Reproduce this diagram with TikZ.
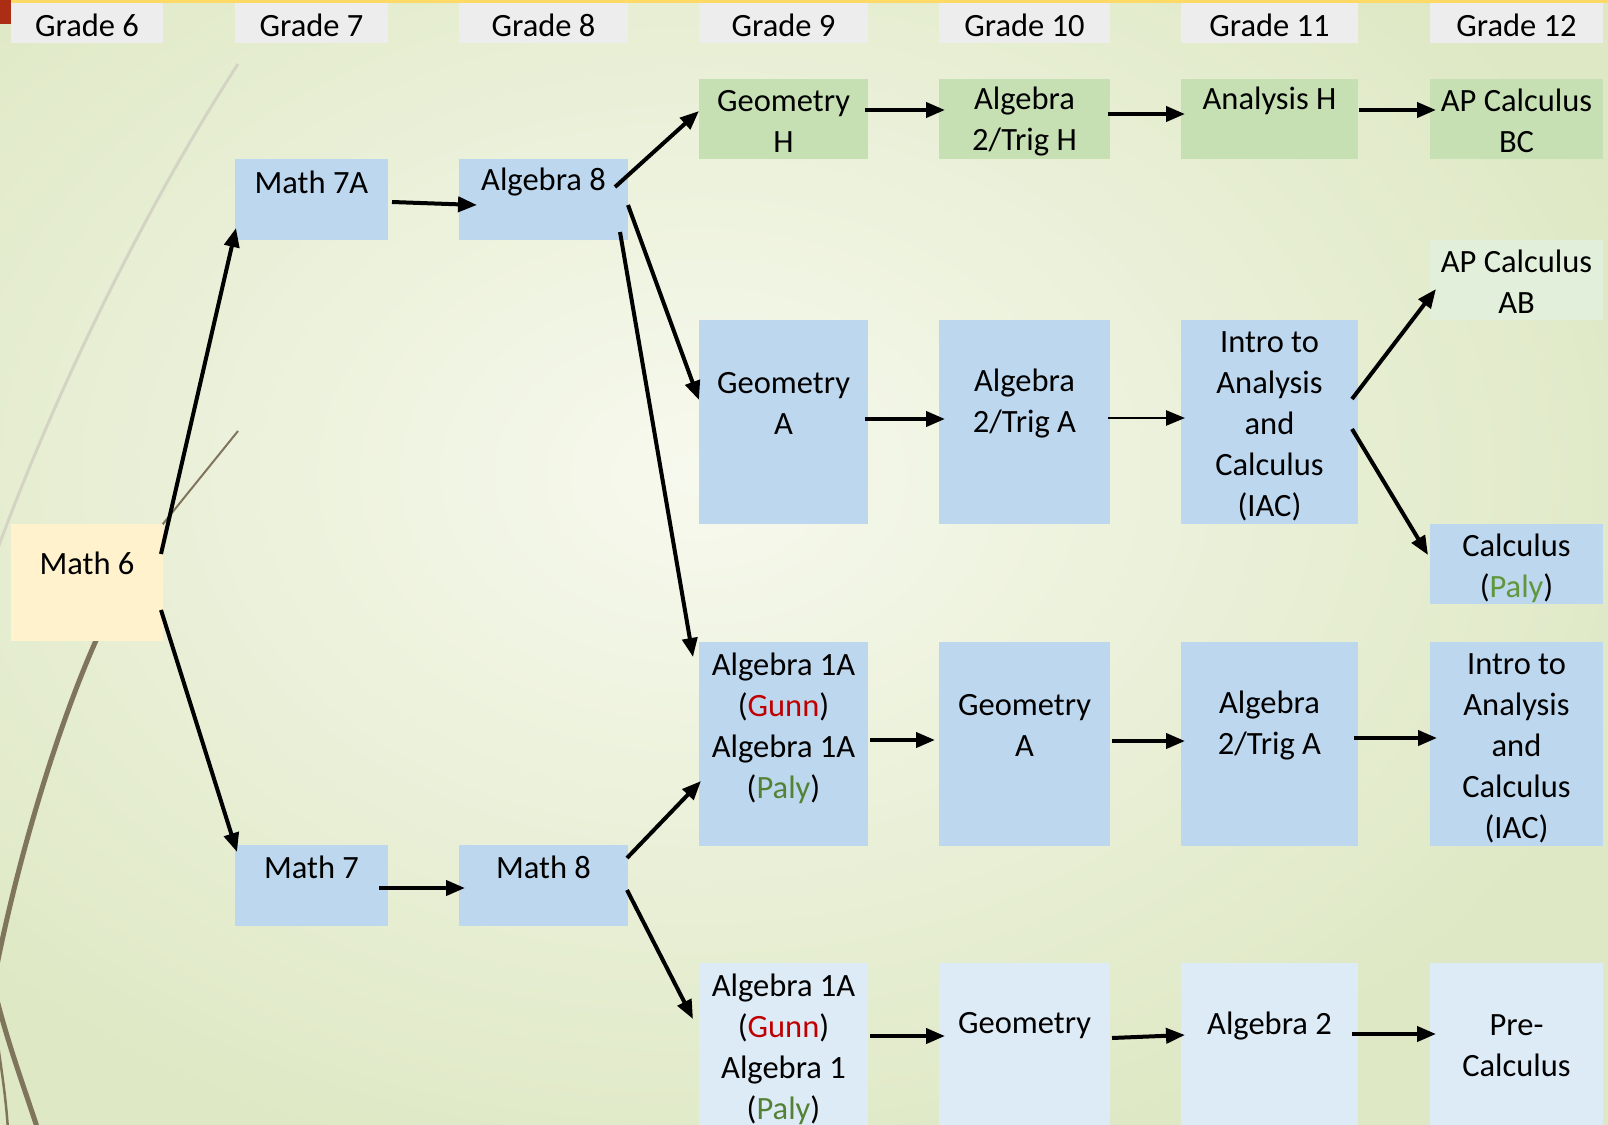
\documentclass[tikz,border=0pt]{standalone}
\usepackage{fontspec}
\setmainfont{Carlito}
\usetikzlibrary{arrows.meta,calc}
\definecolor{hdr}{RGB}{237,237,237}
\definecolor{grn}{RGB}{198,224,180}
\definecolor{lgrn}{RGB}{226,239,218}
\definecolor{blu}{RGB}{189,215,238}
\definecolor{lblu}{RGB}{221,235,247}
\definecolor{ylw}{RGB}{255,242,204}
\definecolor{gunn}{RGB}{192,0,0}
\definecolor{paly}{RGB}{84,130,53}
\definecolor{paly2}{RGB}{96,150,60}
\definecolor{bgin}{RGB}{247,249,238}
\definecolor{bgout}{RGB}{222,232,196}
\definecolor{wisp}{RGB}{127,117,92}
\definecolor{wispl}{RGB}{212,212,196}
\definecolor{topy}{RGB}{255,217,102}
\definecolor{topr}{RGB}{170,45,20}
\tikzset{
  box/.style={inner sep=0pt, outer sep=0pt, anchor=north west, draw=none},
  txt/.style={align=center, inner sep=0pt, font=\fontsize{32.5}{41}\selectfont},
  arr/.style={line width=4pt, -{Triangle[length=19pt,width=15pt]}},
  arrthin/.style={line width=2.5pt, -{Triangle[length=19pt,width=15pt]}},
}
\begin{document}
\begin{tikzpicture}[x=1pt,y=-1pt]
\clip (0,0) rectangle (1608,1124);
\shade[inner color=bgin, outer color=bgout] (-300,-250) rectangle (1700,1200);
% decorative wisps
\draw[wispl, line width=3pt] (238,64) .. controls (150,200) and (60,380) .. (-2,548);
\draw[wisp, line width=2pt] (238,431) -- (150,540);
\draw[wisp, line width=5pt] (98,636) .. controls (60,720) and (20,850) .. (-3,965);
\draw[wisp, line width=5pt] (-3,1000) .. controls (10,1050) and (25,1090) .. (38,1130);
\draw[wisp, line width=2.5pt] (-2,1045) .. controls (3,1080) and (6,1100) .. (8,1130);
% top bar
\fill[topy] (11,0) rectangle (1608,3);
\fill[topr] (0,0) rectangle (11,24);
% headers
\node[box, fill=hdr, minimum width=152pt, minimum height=40pt] (g6) at (11,3) {};
\node[box, fill=hdr, minimum width=153pt, minimum height=40pt] (g7) at (235,3) {};
\node[box, fill=hdr, minimum width=169pt, minimum height=40pt] (g8) at (459,3) {};
\node[box, fill=hdr, minimum width=169pt, minimum height=40pt] (g9) at (699,3) {};
\node[box, fill=hdr, minimum width=171pt, minimum height=40pt] (g10) at (939,3) {};
\node[box, fill=hdr, minimum width=177pt, minimum height=40pt] (g11) at (1181,3) {};
\node[box, fill=hdr, minimum width=173pt, minimum height=40pt] (g12) at (1430,3) {};
\node[txt] (g6t) at (87,25) {Grade 6};
\node[txt] (g7t) at (311.5,25) {Grade 7};
\node[txt] (g8t) at (543.5,25) {Grade 8};
\node[txt] (g9t) at (783.5,25) {Grade 9};
\node[txt] (g10t) at (1024.5,25) {Grade 10};
\node[txt] (g11t) at (1269.5,25) {Grade 11};
\node[txt] (g12t) at (1516.5,25) {Grade 12};
% boxes
\node[box, fill=grn, minimum width=169pt, minimum height=80pt] (geoH) at (699,79) {};
\node[box, fill=grn, minimum width=171pt, minimum height=80pt] (a2h) at (939,79) {};
\node[box, fill=grn, minimum width=177pt, minimum height=80pt] (anh) at (1181,79) {};
\node[box, fill=grn, minimum width=173pt, minimum height=80pt] (bc) at (1430,79) {};
\node[box, fill=blu, minimum width=153pt, minimum height=81pt] (m7a) at (235,159) {};
\node[box, fill=blu, minimum width=169pt, minimum height=81pt] (alg8) at (459,159) {};
\node[box, fill=lgrn, minimum width=173pt, minimum height=80pt] (ab) at (1430,240) {};
\node[box, fill=blu, minimum width=169pt, minimum height=204pt] (geoA) at (699,320) {};
\node[box, fill=blu, minimum width=171pt, minimum height=204pt] (a2a) at (939,320) {};
\node[box, fill=blu, minimum width=177pt, minimum height=204pt] (iac) at (1181,320) {};
\node[box, fill=blu, minimum width=173pt, minimum height=80pt] (calc) at (1430,524) {};
\node[box, fill=ylw, minimum width=152pt, minimum height=117pt] (m6) at (11,524) {};
\node[box, fill=blu, minimum width=169pt, minimum height=204pt] (alga) at (699,642) {};
\node[box, fill=blu, minimum width=171pt, minimum height=204pt] (geoA2) at (939,642) {};
\node[box, fill=blu, minimum width=177pt, minimum height=204pt] (a2a2) at (1181,642) {};
\node[box, fill=blu, minimum width=173pt, minimum height=204pt] (iac2) at (1430,642) {};
\node[box, fill=blu, minimum width=153pt, minimum height=81pt] (m7) at (235,845) {};
\node[box, fill=blu, minimum width=169pt, minimum height=81pt] (m8) at (459,845) {};
\node[box, fill=lblu, minimum width=169pt, minimum height=200pt] (algb) at (699,963) {};
\node[box, fill=lblu, minimum width=171pt, minimum height=200pt] (geo) at (939,963) {};
\node[box, fill=lblu, minimum width=177pt, minimum height=200pt] (alg2) at (1181,963) {};
\node[box, fill=lblu, minimum width=173pt, minimum height=200pt] (pre) at (1430,963) {};
% texts
\node[txt] (geoHt) at (783.5,121) {Geometry\\H};
\node[txt] (a2ht) at (1024.5,122) {Algebra\\2/Trig H};
\node[txt] (anht) at (1269.5,101) {Analysis H};
\node[txt] (bct) at (1516.5,121) {AP Calculus\\BC};
\node[txt] (m7at) at (311.5,182) {Math 7A};
\node[txt] (alg8t) at (543.5,182) {Algebra 8};
\node[txt] (abt) at (1516.5,282) {AP Calculus\\AB};
\node[txt] (geoAt) at (783.5,403.5) {Geometry\\A};
\node[txt] (a2at) at (1024.5,404) {Algebra\\2/Trig A};
\node[txt] (iact) at (1269.5,426) {Intro to\\Analysis\\and\\Calculus\\(IAC)};
\node[txt] (calct) at (1516.5,568) {Calculus\\({\color{paly2}Paly})};
\node[txt] (m6t) at (87,563) {Math 6};
\node[txt] (galat) at (783.5,728) {Algebra 1A\\({\color{gunn}Gunn})\\Algebra 1A\\({\color{paly}Paly})};
\node[txt] (geoA2t) at (1024.5,725) {Geometry\\A};
\node[txt] (a2a2t) at (1269.5,725.5) {Algebra\\2/Trig A};
\node[txt] (iac2t) at (1516.5,748) {Intro to\\Analysis\\and\\Calculus\\(IAC)};
\node[txt] (m7t) at (311.5,867) {Math 7};
\node[txt] (m8t) at (543.5,867) {Math 8};
\node[txt] (algbt) at (783.5,1049) {Algebra 1A\\({\color{gunn}Gunn})\\Algebra 1\\({\color{paly}Paly})};
\node[txt] (geot) at (1024.5,1026) {Geometry};
\node[txt] (alg2t) at (1269.5,1026) {Algebra 2};
\node[txt] (pret) at (1516.5,1046) {Pre-\\Calculus};
% arrows
\draw[arr] ($(m6.north east)+(-2,30)$) -- ($(m7a.south west)+(1,-12)$);
\draw[arr] ($(m6.south east)+(-2,-31)$) -- ($(m7.north west)+(2,7)$);
\draw[arr] ($(m7a.east)+(4,2.5)$) -- ($(alg8.west)+(18,5.5)$);
\draw[arr] ($(alg8.north east)+(-13,28)$) -- ($(geoH.west)+(0,-8)$);
\draw[arr] ($(alg8.east)+(0,5.5)$) -- ($(geoA.west)+(0,-22)$);
\draw[arr] ($(alg8.south east)+(-8,-8)$) -- ($(alga.north west)+(-6,15)$);
\draw[arr] ($(geoH.east)+(-3,-9)$) -- ($(a2h.west)+(6,-9)$);
\draw[arr] ($(a2h.east)+(-2,-5)$) -- ($(anh.west)+(4,-5)$);
\draw[arr] ($(anh.east)+(1,-9)$) -- ($(bc.west)+(6,-9)$);
\draw[arr] ($(geoA.east)+(-3,-3)$) -- ($(a2a.west)+(6,-3)$);
\draw[arrthin] ($(a2a.east)+(-2,-4)$) -- ($(iac.west)+(4,-4)$);
\draw[arr] ($(iac.east)+(-6,-23)$) -- ($(ab.south west)+(6,-31)$);
\draw[arr] ($(iac.east)+(-6,7)$) -- ($(calc.west)+(-2,-9)$);
\draw[arr] ($(m7.east)+(-9,2.5)$) -- ($(m8.west)+(6,2.5)$);
\draw[arr] ($(m8.north east)+(-1,13)$) -- ($(alga.west)+(2,37)$);
\draw[arr] ($(m8.east)+(-1,4.5)$) -- ($(algb.north west)+(-6,56)$);
\draw[arr] ($(alga.east)+(2,-4)$) -- ($(geoA2.west)+(-4,-4)$);
\draw[arr] ($(geoA2.east)+(2,-3)$) -- ($(a2a2.west)+(4,-3)$);
\draw[arr] ($(a2a2.east)+(-4,-6)$) -- ($(iac2.west)+(7,-6)$);
\draw[arr] ($(algb.north east)+(2,73)$) -- ($(geo.north west)+(6,73)$);
\draw[arr] ($(geo.north east)+(2,75)$) -- ($(alg2.north west)+(4,72)$);
\draw[arr] ($(alg2.north east)+(-6,71)$) -- ($(pre.north west)+(6,71)$);
\end{tikzpicture}
\end{document}
